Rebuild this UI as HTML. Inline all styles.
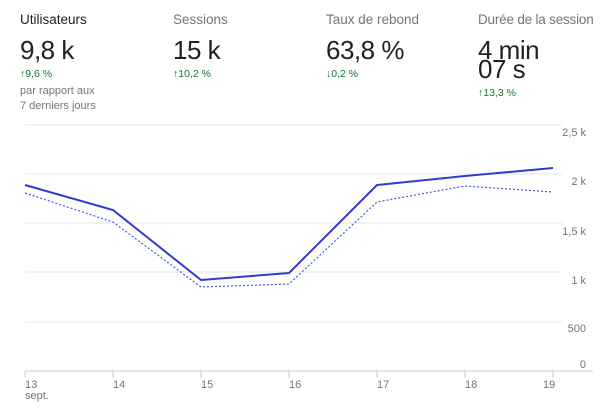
<!DOCTYPE html><html><head><style>
body{margin:0;background:#fff;font-family:"Liberation Sans",sans-serif;width:600px;height:412px;overflow:hidden;position:relative}
.m{position:absolute;top:12px;white-space:nowrap}
.t{font-size:13.5px;color:#757575}
.v{font-size:26px;color:#212121;margin-top:8px;letter-spacing:-0.5px}
.d{font-size:10.5px;color:#137333;margin-top:2px}
.s{font-size:11px;color:#757575;line-height:15px;margin-top:4px}
</style></head><body>
<div class="m" style="left:20px"><div class="t" style="color:#212121">Utilisateurs</div><div class="v">9,8 k</div><div class="d">↑9,6 %</div><div class="s">par rapport aux<br>7 derniers jours</div></div>
<div class="m" style="left:173px"><div class="t">Sessions</div><div class="v">15 k</div><div class="d">↑10,2 %</div></div>
<div class="m" style="left:326px"><div class="t">Taux de rebond</div><div class="v">63,8 %</div><div class="d">↓0,2 %</div></div>
<div class="m" style="left:478px"><div class="t" style="letter-spacing:-0.2px">Durée de la session</div><div class="v" style="line-height:19px;margin-top:14px">4 min<br>07 s</div><div class="d" style="margin-top:8px">↑13,3 %</div></div>
<svg width="600" height="412" style="position:absolute;left:0;top:0" font-family="Liberation Sans,sans-serif" font-size="11" fill="#757575">
<g stroke="#e6e6e6" stroke-width="1">
<line x1="25" x2="562" y1="125" y2="125"/><line x1="25" x2="562" y1="174" y2="174"/><line x1="25" x2="562" y1="223" y2="223"/><line x1="25" x2="562" y1="272" y2="272"/><line x1="25" x2="562" y1="322" y2="322"/><line x1="25" x2="593" y1="371" y2="371" stroke="#ccc"/>
</g>
<g stroke="#ccc"><line x1="25" x2="25" y1="371" y2="378"/><line x1="113" x2="113" y1="371" y2="378"/><line x1="201" x2="201" y1="371" y2="378"/><line x1="289" x2="289" y1="371" y2="378"/><line x1="377" x2="377" y1="371" y2="378"/><line x1="465" x2="465" y1="371" y2="378"/><line x1="553" x2="553" y1="371" y2="378"/></g>
<g text-anchor="end"><text x="586" y="136">2,5 k</text><text x="586" y="185">2 k</text><text x="586" y="235">1,5 k</text><text x="586" y="284">1 k</text><text x="586" y="332">500</text><text x="586" y="368">0</text></g>
<g><text x="25" y="388">13</text><text x="25" y="399">sept.</text><text x="113" y="388">14</text><text x="201" y="388">15</text><text x="289" y="388">16</text><text x="377" y="388">17</text><text x="465" y="388">18</text><text x="543" y="388">19</text></g>
<polyline fill="none" stroke="#4a56e2" stroke-width="1.2" stroke-dasharray="2,2" points="25,193 113,222 201,287 289,284 377,202 465,186 553,192"/>
<polyline fill="none" stroke="#2f3ccf" stroke-width="2" points="25,185 113,210 201,280 289,273 377,185 465,176 553,168"/>
</svg>
</body></html>
